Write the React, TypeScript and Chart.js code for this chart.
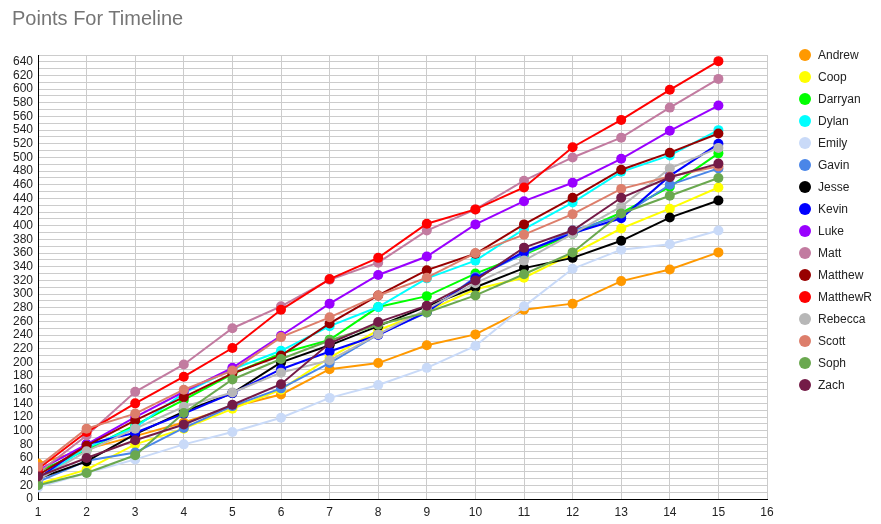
import React, { useEffect, useRef } from "react";
import { Chart, registerables } from "chart.js";

Chart.register(...registerables);

const weeks = [1, 2, 3, 4, 5, 6, 7, 8, 9, 10, 11, 12, 13, 14, 15];

const names = [
  "Andrew", "Coop", "Darryan", "Dylan", "Emily", "Gavin", "Jesse", "Kevin",
  "Luke", "Matt", "Matthew", "MatthewR", "Rebecca", "Scott", "Soph", "Zach",
];

const colors = [
  "#ff9900", "#ffff00", "#00ff00", "#00ffff", "#c9daf8", "#4a86e8", "#000000", "#0000ff",
  "#9900ff", "#c27ba0", "#980000", "#ff0000", "#b7b7b7", "#dd7e6b", "#6aa84f", "#741b47",
];

const andrew = [52, 73, 92, 112, 135, 153, 190, 199, 225, 241, 277, 286, 319, 336, 361];
const coop = [22, 43, 80, 103, 132, 160, 207, 247, 275, 307, 324, 359, 396, 425, 456];
const darryan = [40, 72, 108, 145, 183, 213, 233, 281, 297, 330, 358, 388, 419, 457, 506];
const dylan = [28, 75, 105, 155, 190, 217, 253, 281, 323, 349, 395, 434, 479, 503, 540];
const emily = [17, 38, 58, 80, 98, 119, 148, 167, 192, 224, 282, 337, 365, 373, 393];
const gavin = [25, 56, 68, 104, 136, 162, 199, 241, 273, 325, 359, 393, 414, 460, 484];
const jesse = [30, 55, 95, 128, 155, 200, 225, 253, 282, 310, 338, 353, 378, 412, 437];
const kevin = [30, 80, 97, 125, 155, 190, 216, 240, 274, 323, 362, 389, 411, 473, 520];
const luke = [42, 80, 120, 157, 192, 239, 286, 328, 355, 402, 436, 463, 498, 539, 576];
const matt = [38, 93, 157, 197, 250, 282, 321, 346, 393, 424, 466, 500, 529, 573, 615];
const matthew = [35, 78, 115, 149, 184, 210, 257, 298, 335, 359, 402, 441, 482, 507, 535];
const matthewR = [44, 98, 140, 179, 221, 277, 322, 353, 403, 424, 456, 515, 555, 599, 641];
const rebecca = [28, 70, 103, 135, 156, 185, 203, 241, 278, 316, 349, 388, 428, 484, 514];
const scott = [47, 103, 125, 160, 188, 237, 266, 298, 324, 360, 387, 417, 454, 472, 487];
const soph = [20, 38, 64, 126, 175, 205, 232, 255, 273, 298, 329, 361, 418, 444, 470];
const zach = [33, 60, 86, 109, 138, 168, 228, 259, 283, 320, 368, 393, 441, 471, 491];

const seriesValues = [
  andrew, coop, darryan, dylan, emily, gavin, jesse, kevin,
  luke, matt, matthew, matthewR, rebecca, scott, soph, zach,
];

const FONT = "Arial, 'Liberation Sans', sans-serif";

export default function App() {
  const canvasRef = useRef<HTMLCanvasElement | null>(null);

  useEffect(() => {
    document.body.style.margin = "0";
    const canvas = canvasRef.current;
    if (!canvas) return;
    const chart = new Chart(canvas, {
      type: "line",
      data: {
        datasets: names.map((name, i) => ({
          label: name,
          data: weeks.map((w, j) => ({ x: w, y: seriesValues[i][j] })),
          borderColor: colors[i],
          backgroundColor: colors[i],
          pointBackgroundColor: colors[i],
          pointBorderColor: colors[i],
          pointRadius: 5,
          pointBorderWidth: 0,
          borderWidth: 2,
          tension: 0,
          fill: false,
          order: names.length - i,
        })),
      },
      options: {
        responsive: false,
        animation: false,
        events: [],
        layout: { padding: { left: 0, top: 55, right: 114, bottom: 0 } },
        plugins: {
          legend: { display: false },
          title: { display: false },
          tooltip: { enabled: false },
        },
        scales: {
          x: {
            type: "linear",
            min: 1,
            max: 16,
            grid: { color: "#cccccc", lineWidth: 1, drawTicks: false },
            border: { color: "#000000", width: 1 },
            ticks: {
              stepSize: 1,
              autoSkip: false,
              maxRotation: 0,
              padding: 6,
              color: "#222222",
              font: { family: FONT, size: 12 },
            },
            afterFit: (scale: any) => {
              scale.height = 25;
            },
          },
          y: {
            type: "linear",
            min: 0,
            max: 650,
            grid: { color: "#cccccc", lineWidth: 1, drawTicks: false },
            border: { color: "#000000", width: 1 },
            ticks: {
              stepSize: 10,
              autoSkip: false,
              padding: 5,
              color: "#222222",
              font: { family: FONT, size: 12 },
              callback: (v: any) => (Number(v) % 20 === 0 ? String(v) : ""),
            },
            afterFit: (scale: any) => {
              scale.width = 38;
            },
          },
        },
      },
    });
    return () => chart.destroy();
  }, []);

  return (
    <div style={{ position: "relative", width: 881, height: 524, background: "#fff", fontFamily: FONT }}>
      <canvas ref={canvasRef} width={881} height={524} style={{ position: "absolute", left: 0, top: 0 }} />
      <div
        style={{
          position: "absolute",
          left: 12,
          top: 6,
          fontSize: 20,
          color: "#757575",
          lineHeight: "24px",
          whiteSpace: "nowrap",
        }}
      >
        Points For Timeline
      </div>
      {names.map((name, i) => (
        <div
          key={name}
          style={{
            position: "absolute",
            left: 799,
            top: 55 + i * 22 - 8,
            height: 16,
            display: "flex",
            alignItems: "center",
            fontSize: 12,
            color: "#222222",
            whiteSpace: "nowrap",
          }}
        >
          <span
            style={{
              display: "inline-block",
              width: 12,
              height: 12,
              borderRadius: "50%",
              background: colors[i],
              marginRight: 7,
            }}
          />
          {name}
        </div>
      ))}
    </div>
  );
}
